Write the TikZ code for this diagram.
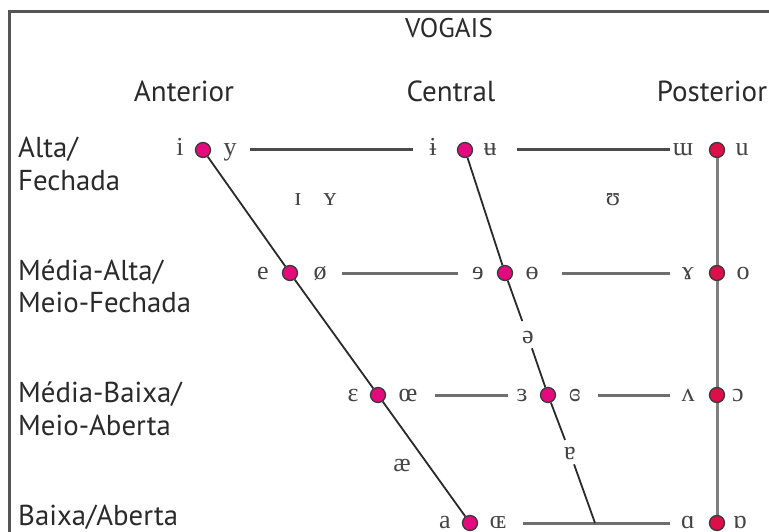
\documentclass[tikz,border=0pt]{standalone}
\usepackage{fontspec}
\setmainfont{PT Sans}
\newfontfamily\ipafont{Liberation Serif}
\definecolor{dotpink}{HTML}{E4097C}
\definecolor{dotred}{HTML}{DC0F4A}
\definecolor{dotedge}{HTML}{3A3A3A}
\definecolor{labgray}{HTML}{2A2A2A}
\definecolor{ipagray}{HTML}{444444}
\definecolor{hgray}{HTML}{6E6E6E}
\definecolor{dgray}{HTML}{2A2A2A}
\definecolor{vgray}{HTML}{7E7E7E}
\definecolor{framegray}{HTML}{555555}
\begin{document}
\begin{tikzpicture}[x=1pt,y=-1pt,
  dot/.style={circle, fill=dotpink, draw=dotedge, line width=1.3pt, minimum size=15pt, inner sep=0pt},
  backdot/.style={dot, fill=dotred},
  ipa/.style={font=\ipafont\fontsize{26}{30}\selectfont, text=ipagray, inner sep=0pt, anchor=base},
  lab/.style={font=\fontsize{28.8}{32}\selectfont, text=labgray, inner sep=0pt, anchor=base west},
  head/.style={font=\fontsize{29}{32}\selectfont, text=labgray, inner sep=0pt, anchor=base},
  hline/.style={draw=hgray, line width=3pt},
  diag/.style={draw=dgray, line width=1.8pt},
  vline/.style={draw=vgray, line width=3pt},
  frame/.style={draw=framegray, line width=3pt}]
\fill[white] (0,0) rectangle (769,532);
\useasboundingbox (0,0) rectangle (769,532);
\draw[frame] (769,12) -- (9,12) -- (9,532);

% headers
\node[head, font=\fontsize{27}{30}\selectfont] (vogais) at (449,38) {VOGAIS};
\node[head] (anterior) at (184,102) {Anterior};
\node[head] (central) at (451,102) {Central};
\node[head] (posterior) at (712,102) {Posterior};

% row labels
\node[lab] (alta) at (18,158) {Alta/};
\node[lab] (fechada) at (18,190) {Fechada};
\node[lab] (malta) at (18,280) {Média-Alta/};
\node[lab] (mfechada) at (18,312) {Meio-Fechada};
\node[lab] (mbaixa) at (18,402) {Média-Baixa/};
\node[lab] (maberta) at (18,435) {Meio-Aberta};
\node[lab] (baixa) at (18,525) {Baixa/Aberta};

% dots
\node[dot] (f1) at (203,150) {};
\node[dot] (f2) at (290,273) {};
\node[dot] (f3) at (378,395) {};
\node[dot] (f4) at (470,523) {};
\node[dot] (c1) at (465,150) {};
\node[dot] (c2) at (505,273) {};
\node[dot] (c3) at (548,395) {};
\node[backdot] (b1) at (717,150) {};
\node[backdot] (b2) at (717,273) {};
\node[backdot] (b3) at (717,395) {};
\node[backdot] (b4) at (717,523) {};
\coordinate (cb) at (595,523);

% symbols
\node[ipa] (s-i) at (180,156) {i};
\node[ipa] (s-y) at (230,156) {y};
\node[ipa] (s-ib) at (433,156) {ɨ};
\node[ipa] (s-ub) at (490,156) {ʉ};
\node[ipa] (s-um) at (683,156) {ɯ};
\node[ipa] (s-u) at (742,156) {u};
\node[ipa] (s-I) at (298,206) {ɪ};
\node[ipa] (s-Y) at (330,206) {ʏ};
\node[ipa] (s-U) at (613,206) {ʊ};
\node[ipa] (s-e) at (263,279) {e};
\node[ipa] (s-oe) at (320,279) {ø};
\node[ipa] (s-er) at (478,279) {ɘ};
\node[ipa] (s-ob) at (532,279) {ɵ};
\node[ipa] (s-ga) at (688,279) {ɤ};
\node[ipa] (s-o) at (743,279) {o};
\node[ipa] (schwa) at (528,343) {ə};
\node[ipa] (s-E) at (353,401) {ɛ};
\node[ipa] (s-OE) at (408,401) {œ};
\node[ipa] (s-3) at (522,401) {ɜ};
\node[ipa] (s-cb) at (575,401) {ɞ};
\node[ipa] (s-V) at (688,401) {ʌ};
\node[ipa] (s-O) at (738,401) {ɔ};
\node[ipa] (s-ae) at (402,471) {æ};
\node[ipa] (turna) at (570,459) {ɐ};
\node[ipa] (s-a) at (445,528) {a};
\node[ipa] (s-Oe) at (498,528) {ɶ};
\node[ipa] (s-A) at (688,528) {ɑ};
\node[ipa] (s-Q) at (740,528) {ɒ};

% horizontal lines
\draw[hline, draw=dgray!85, shorten <=47pt, shorten >=52pt] (f1.center) -- (c1.center);
\draw[hline, draw=dgray!85, shorten <=52pt, shorten >=47pt] (c1.center) -- (b1.center);
\draw[hline, shorten <=52pt, shorten >=47pt] (f2.center) -- (c2.center);
\draw[hline, shorten <=57pt, shorten >=47pt] (c2.center) -- (b2.center);
\draw[hline, shorten <=57pt, shorten >=40pt] (f3.center) -- (c3.center);
\draw[hline, shorten <=50pt, shorten >=47pt] (c3.center) -- (b3.center);
\draw[hline, shorten <=53pt, shorten >=47pt] (f4.center) -- (b4.center);

% front diagonal
\draw[diag] (f1) -- (f2);
\draw[diag] (f2) -- (f3);
\draw[diag] (f3) -- (f4);
% central diagonal
\draw[diag] (c1) -- (c2);
\draw[diag, shorten >=17pt] (c2) -- (schwa.center);
\draw[diag, shorten <=12pt] (schwa.center) -- (c3);
\draw[diag, shorten >=14pt] (c3) -- (turna.center);
\draw[diag, shorten <=12pt] (turna.center) -- (cb);
% back vertical
\draw[vline] (b1) -- (b2);
\draw[vline] (b2) -- (b3);
\draw[vline] (b3) -- (b4);
\end{tikzpicture}
\end{document}
